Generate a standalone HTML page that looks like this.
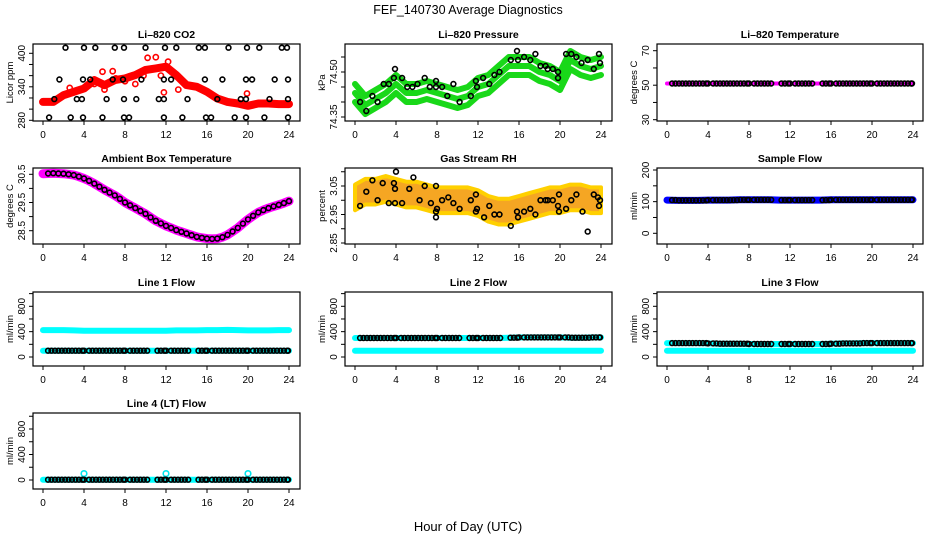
<!DOCTYPE html>
<html><head><meta charset="utf-8"><style>
body{margin:0;background:#fff;}
svg{display:block;font-family:"Liberation Sans",sans-serif;}
</style></head><body>
<svg id="c" width="936" height="540" viewBox="0 0 936 540">
<text x="468" y="14" text-anchor="middle" font-size="12.5">FEF_140730  Average Diagnostics</text>
<text x="468" y="531" text-anchor="middle" font-size="13">Hour of Day (UTC)</text>
</svg>
<script>
const hours = [0,1,2,3,4,5,6,7,8,9,10,11,12,13,14,15,16,17,18,19,20,21,22,23,24];
const halfHours = [0,0.5,1,1.5,2,2.5,3,3.5,4,4.5,5,5.5,6,6.5,7,7.5,8,8.5,9,9.5,10,10.5,11,11.5,12,12.5,13,13.5,14,14.5,15,15.5,16,16.5,17,17.5,18,18.5,19,19.5,20,20.5,21,21.5,22,22.5,23,23.5,24];
const xTicks = [0,4,8,12,16,20,24];
const blackHours = [0.5,0.83,1.17,1.5,1.83,2.17,2.5,2.83,3.17,3.5,3.83,4.0,4.5,4.83,5.17,5.5,5.83,6.17,6.5,6.83,7.17,7.5,7.83,8.0,8.5,8.83,9.17,9.5,9.83,10.17,11.17,11.5,11.83,12.0,12.5,12.83,13.17,13.5,13.83,14.17,15.17,15.5,15.83,16.0,16.5,16.83,17.17,17.5,17.83,18.17,18.5,18.83,19.17,19.5,19.83,20.0,20.5,20.83,21.17,21.5,21.83,22.17,22.5,22.83,23.17,23.5,23.83,23.9];

const co2Red = [313,313,325,331,337,352,343,352,355,361,370,373,376,361,343,340,331,319,313,310,306,310,310,309,309];
const co2OutHours = [2.6,4.5,5.0,5.8,6.0,6.8,7.1,8.0,9.0,9.8,10.2,11.0,11.5,11.8,12.2,12.9,13.2,19.9];
const co2OutVals = [338,345,345,367,335,368,355,350,345,360,392,393,360,330,385,360,335,328];
const co2BlackHours = [2.2,4.0,5.1,7.0,7.9,10.0,11.9,13.0,15.2,15.8,18.1,19.9,21.1,23.3,23.8, 1.6,3.9,4.6,6.8,7.8,9.6,11.8,12.5,15.8,17.5,19.8,20.4,22.6,23.9, 1.1,3.3,3.8,6.2,7.9,9.1,11.3,11.8,14.1,17.0,19.3,19.8,22.1,23.9, 0.6,2.7,3.9,5.8,7.9,8.4,11.8,13.6,15.9,16.4,18.7,19.8,21.6,23.9];
const co2BlackVals = [410,410,410,410,410,410,410,410,410,410,410,410,410,410,410, 353,353,353,353,353,353,353,353,353,353,353,353,353,353, 318,318,318,318,318,318,318,318,318,318,318,318,318,318, 285,285,285,285,285,285,285,285,285,285,285,285,285,285];

const pressCenter = [74.43,74.39,74.41,74.43,74.46,74.43,74.43,74.44,74.43,74.42,74.41,74.42,74.45,74.46,74.49,74.52,74.52,74.52,74.50,74.49,74.47,74.54,74.52,74.51,74.52];
const pressSpread = [-0.03,0,0.03];
const pressBlackHours = [0.5,1.1,1.7,2.2,2.8,3.3,3.8,3.9,4.6,5.1,5.6,6.1,6.8,7.3,7.9,7.9,8.5,9.0,9.6,10.2,11.3,11.8,11.9,12.5,13.1,13.6,14.1,15.2,15.8,15.9,16.5,17.1,17.6,18.1,18.6,18.8,19.3,19.8,19.8,20.6,21.1,21.6,22.1,22.7,23.3,23.8,23.9];
const pressBlackVals = [74.40,74.37,74.42,74.40,74.46,74.46,74.48,74.51,74.48,74.45,74.45,74.46,74.48,74.45,74.47,74.45,74.45,74.42,74.46,74.40,74.42,74.47,74.45,74.48,74.46,74.49,74.50,74.54,74.57,74.54,74.55,74.54,74.56,74.52,74.52,74.51,74.51,74.48,74.50,74.56,74.56,74.55,74.53,74.54,74.51,74.56,74.53];

const liTemp = [51,51,51,51,51,51,51,51,51,51,51,51,51,51,51,51,51,51,51,51,51,51,51,51,51];

const ambient = [30.52,30.53,30.54,30.53,30.52,30.5,30.47,30.42,30.35,30.27,30.17,30.06,29.95,29.85,29.75,29.63,29.5,29.4,29.3,29.2,29.1,28.97,28.85,28.76,28.67,28.6,28.52,28.46,28.4,28.34,28.28,28.25,28.22,28.21,28.22,28.27,28.35,28.47,28.6,28.75,28.9,29.03,29.15,29.23,29.3,29.36,29.42,29.48,29.55];

const rhCenter = [3.01,3.03,3.03,3.04,3.03,3.02,3.02,3.01,3.0,3.0,3.0,3.0,2.99,2.97,2.96,2.96,2.97,2.98,2.99,3.0,3.0,3.01,3.01,3.0,3.0];
const rhHalfWidth = [0.045];
const rhBlackHours = [0.5,1.1,1.7,2.2,2.7,3.3,3.8,3.9,4.0,3.9,4.6,5.3,5.7,6.3,6.8,7.4,7.9,7.9,8.0,7.9,8.5,9.1,9.6,10.2,11.3,11.8,11.9,11.8,12.6,13.1,13.6,14.1,15.2,15.8,15.9,16.5,17.1,17.6,18.1,18.6,18.8,19.3,19.8,19.9,19.9,20.6,21.1,21.6,22.2,22.7,23.3,23.7,23.8,23.9];
const rhBlackVals = [2.98,3.03,3.07,3.0,3.06,2.99,3.06,3.04,3.10,2.99,2.99,3.04,3.08,3.0,3.05,2.99,3.05,2.96,2.97,2.94,3.0,3.01,2.99,2.97,3.0,3.02,2.97,2.96,2.94,2.98,2.95,2.95,2.91,2.96,2.94,2.96,2.97,2.95,3.0,3.0,3.0,3.0,2.98,3.02,2.96,2.97,3.0,3.02,2.96,2.89,3.02,3.01,2.98,3.0];

const sampleFlow = [105,104,104,104,105,105,105,106,106,106,106,105,105,105,105,105,106,106,106,106,106,106,106,106,106];
const line1Hi = [425,425,425,420,415,415,415,415,415,415,415,415,415,420,420,420,425,425,428,425,420,420,420,425,425];
const line1Lo = [100,100,100,100,100,100,100,100,100,100,100,100,100,100,100,100,100,100,100,100,100,100,100,100,100];
const line2Hi = [300,300,300,300,300,300,300,300,300,300,300,300,300,300,300,305,310,310,310,310,310,305,305,310,310];
const line2Lo = [100,100,100,100,100,100,100,100,100,100,100,100,100,100,100,100,100,100,100,100,100,100,100,100,100];
const line3Hi = [220,220,220,220,215,210,210,210,205,205,205,205,205,205,205,205,210,215,215,220,220,220,220,220,220];
const line3Lo = [100,100,100,100,100,100,100,100,100,100,100,100,100,100,100,100,100,100,100,100,100,100,100,100,100];
const line4 = [5,5,5,5,5,5,5,5,5,5,5,5,5,5,5,5,5,5,5,5,5,5,5,5,5];
const line4SpikeHours = [4,12,20];
const line4SpikeVals = [100,100,100];

const NS = "http://www.w3.org/2000/svg";
const svg = document.getElementById('c');
function mk(tag, attrs, parent){ const e=document.createElementNS(NS,tag); for(const k in attrs) e.setAttribute(k,attrs[k]); (parent||svg).appendChild(e); return e; }

function panel(cfg){
  const g = mk('g',{});
  
  
  const xs = h => cfg.x0 + h/24*246;
  const ys = v => cfg.py1 + (v-cfg.v1)/(cfg.v2-cfg.v1)*(cfg.py2-cfg.py1);
  const sg = mk('g',{}, g);
  
  
  cfg.draw(sg, xs, ys);
  const box = mk('rect',{x:cfg.bx1,y:cfg.by1,width:cfg.bx2-cfg.bx1,height:cfg.by2-cfg.by1,fill:'none',stroke:'#000','stroke-width':1.2}, g);
  
  
  const xa = mk('g',{}, g);
  
  
  mk('line',{x1:xs(0),x2:xs(24),y1:cfg.by2,y2:cfg.by2,stroke:'#000','stroke-width':1}, xa);
  xTicks.forEach(t=>{
    mk('line',{x1:xs(t),x2:xs(t),y1:cfg.by2,y2:cfg.by2+4,stroke:'#000'}, xa);
    const tx = mk('text',{x:xs(t),y:cfg.by2+17,'text-anchor':'middle','font-size':10}, xa);
    tx.textContent = t;
    
    
  });
  const ya = mk('g',{}, g);
  
  
  cfg.yTicks.forEach(t=>{
    mk('line',{x1:cfg.bx1-4,x2:cfg.bx1,y1:ys(t),y2:ys(t),stroke:'#000'}, ya);
  });
  cfg.yLabels.forEach(t=>{
    const y = ys(Number(t)), x = cfg.bx1-8;
    const tx = mk('text',{x:x,y:y,'text-anchor':'middle','font-size':10,transform:`rotate(-90 ${x} ${y})`}, ya);
    tx.textContent = t;
    
    
  });
  const yt = mk('text',{x:cfg.bx1-20,y:(cfg.by1+cfg.by2)/2,'text-anchor':'middle','font-size':9.5,transform:`rotate(-90 ${cfg.bx1-20} ${(cfg.by1+cfg.by2)/2})`}, g);
  yt.textContent = cfg.ytitle;
  
  
  const tt = mk('text',{x:(cfg.bx1+cfg.bx2)/2,y:cfg.by1-6,'text-anchor':'middle','font-size':10.5,'font-weight':'bold'}, g);
  tt.textContent = cfg.title;
  
  
}

function poly(parent, hs, vs, xs, ys, color, w, nm){
  const pts = hs.map((h,i)=>xs(h).toFixed(1)+','+ys(vs[i]).toFixed(1)).join(' ');
  const p = mk('polyline',{points:pts,fill:'none',stroke:color,'stroke-width':w,'stroke-linejoin':'round','stroke-linecap':'round'}, parent);
  
  
}
function dots(parent, hs, vs, xs, ys, color, r, nm){
  hs.forEach((h,i)=>{
    const c = mk('circle',{cx:xs(h).toFixed(1),cy:ys(vs[i]).toFixed(1),r:r,fill:'none',stroke:color,'stroke-width':1.6}, parent);
    
    
  });
}
function levelAt(arr, h){ return arr[Math.min(24, Math.floor(h))]; }
function blackFlat(parent, arr, xs, ys){
  dots(parent, blackHours, blackHours.map(h=>levelAt(arr,h)), xs, ys, '#000', 2.4, 'black-point');
}

const C1={x0:43,bx1:33,bx2:300}, C2={x0:355,bx1:345,bx2:612}, C3={x0:667,bx1:657,bx2:923};
const R1={by1:44,by2:121}, R2={by1:168,by2:244}, R3={by1:292,by2:366}, R4={by1:413,by2:489};

panel(Object.assign({name:'co2-panel',title:'Li–820 CO2',ytitle:'Licor ppm',v1:280,py1:120.3,v2:400,py2:53.3,
  yTicks:[280,300,320,340,360,380,400],yLabels:['280','340','400'],
  draw:(g,xs,ys)=>{ poly(g,hours,co2Red,xs,ys,'#ff0000',8,'co2-line');
    dots(g,co2OutHours,co2OutVals,xs,ys,'#ff0000',2.6,'co2-outlier');
    dots(g,co2BlackHours,co2BlackVals,xs,ys,'#000',2.4,'co2-black-point'); }},C1,R1));

panel(Object.assign({name:'pressure-panel',title:'Li–820 Pressure',ytitle:'kPa',v1:74.35,py1:117,v2:74.50,py2:72,
  yTicks:[74.35,74.40,74.45,74.50,74.55],yLabels:['74.35','74.50'],
  draw:(g,xs,ys)=>{ pressSpread.forEach(s=>poly(g,hours,pressCenter.map(v=>v+s),xs,ys,'#19d819',6,'pressure-band'));
    dots(g,pressBlackHours,pressBlackVals,xs,ys,'#000',2.4,'pressure-black-point'); }},C2,R1));

panel(Object.assign({name:'li820-temp-panel',title:'Li–820 Temperature',ytitle:'degrees C',v1:30,py1:119.7,v2:70,py2:50.7,
  yTicks:[30,40,50,60,70],yLabels:['30','50','70'],
  draw:(g,xs,ys)=>{ poly(g,hours,liTemp,xs,ys,'#ff00ff',4,'li820-temp-line'); blackFlat(g,liTemp,xs,ys); }},C3,R1));

panel(Object.assign({name:'ambient-panel',title:'Ambient Box Temperature',ytitle:'degrees C',v1:28.5,py1:230.7,v2:30.5,py2:174.3,
  yTicks:[28.5,29,29.5,30,30.5],yLabels:['28.5','29.5','30.5'],
  draw:(g,xs,ys)=>{ poly(g,halfHours,ambient,xs,ys,'#ff00ff',9,'ambient-line');
    dots(g,halfHours.slice(1),ambient.slice(1),xs,ys,'#000',2.4,'ambient-black-point'); }},C1,R2));

panel(Object.assign({name:'rh-panel',title:'Gas Stream RH',ytitle:'percent',v1:2.85,py1:243,v2:3.05,py2:186,
  yTicks:[2.85,2.90,2.95,3.00,3.05,3.10],yLabels:['2.85','2.95','3.05'],
  draw:(g,xs,ys)=>{
    const top = hours.map((h,i)=>xs(h).toFixed(1)+','+ys(rhCenter[i]+rhHalfWidth[0]).toFixed(1));
    const bot = hours.map((h,i)=>xs(h).toFixed(1)+','+ys(rhCenter[i]-rhHalfWidth[0]).toFixed(1)).reverse();
    const p = mk('polygon',{points:top.concat(bot).join(' '),fill:'#f5a623',stroke:'#ffd000','stroke-width':4,'stroke-linejoin':'round'},g);
    
    
    dots(g,rhBlackHours,rhBlackVals,xs,ys,'#000',2.4,'rh-black-point'); }},C2,R2));

panel(Object.assign({name:'sample-flow-panel',title:'Sample Flow',ytitle:'ml/min',v1:0,py1:233.3,v2:200,py2:170,
  yTicks:[0,50,100,150,200],yLabels:['0','100','200'],
  draw:(g,xs,ys)=>{ poly(g,hours,sampleFlow,xs,ys,'#0000ff',7,'sample-flow-line'); blackFlat(g,sampleFlow,xs,ys); }},C3,R2));

const flowTicks=[0,200,400,600,800,1000], flowLabels=['0','400','800'];
panel(Object.assign({name:'line1-panel',title:'Line 1 Flow',ytitle:'ml/min',v1:0,py1:357,v2:800,py2:306.3,yTicks:flowTicks,yLabels:flowLabels,
  draw:(g,xs,ys)=>{ poly(g,hours,line1Hi,xs,ys,'#00ffff',6,'line1-high'); poly(g,hours,line1Lo,xs,ys,'#00ffff',6,'line1-low'); blackFlat(g,line1Lo,xs,ys); }},C1,R3));
panel(Object.assign({name:'line2-panel',title:'Line 2 Flow',ytitle:'ml/min',v1:0,py1:357,v2:800,py2:306.3,yTicks:flowTicks,yLabels:flowLabels,
  draw:(g,xs,ys)=>{ poly(g,hours,line2Hi,xs,ys,'#00ffff',6,'line2-high'); poly(g,hours,line2Lo,xs,ys,'#00ffff',6,'line2-low'); blackFlat(g,line2Hi,xs,ys); }},C2,R3));
panel(Object.assign({name:'line3-panel',title:'Line 3 Flow',ytitle:'ml/min',v1:0,py1:357,v2:800,py2:306.3,yTicks:flowTicks,yLabels:flowLabels,
  draw:(g,xs,ys)=>{ poly(g,hours,line3Hi,xs,ys,'#00ffff',6,'line3-high'); poly(g,hours,line3Lo,xs,ys,'#00ffff',6,'line3-low'); blackFlat(g,line3Hi,xs,ys); }},C3,R3));
panel(Object.assign({name:'line4-panel',title:'Line 4 (LT) Flow',ytitle:'ml/min',v1:0,py1:480,v2:800,py2:429,yTicks:flowTicks,yLabels:flowLabels,
  draw:(g,xs,ys)=>{ poly(g,hours,line4,xs,ys,'#00ffff',6,'line4-line');
    dots(g,line4SpikeHours,line4SpikeVals,xs,ys,'#00e5ee',2.8,'line4-spike'); blackFlat(g,line4,xs,ys); }},C1,R4));
</script>
</body></html>
